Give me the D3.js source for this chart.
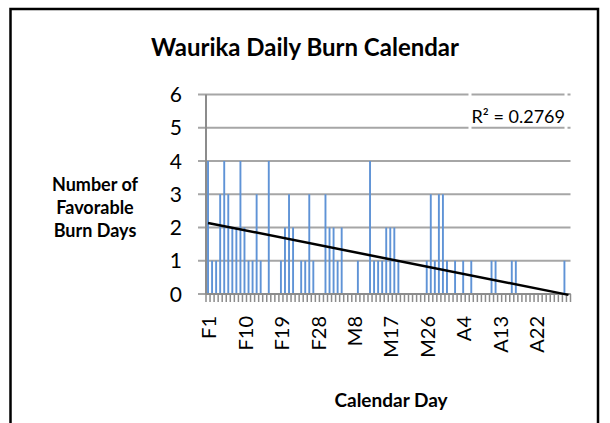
<!DOCTYPE html>
<html>
<head>
<meta charset="utf-8">
<script src="https://cdn.jsdelivr.net/npm/d3@7"></script>
<style>
  html, body { margin: 0; padding: 0; background: #fff; }
  svg { display: block; font-family: Lato, "Open Sans", sans-serif; }
</style>
</head>
<body>
<svg width="610" height="423"></svg>
<script>
// calendar days Feb 1 .. Apr 30 (leap year)
const monthDays = [["F", 29], ["M", 31], ["A", 30]];
const days = [];
monthDays.forEach(([m, n]) => { for (let d = 1; d <= n; d++) days.push(m + d); });

// number of favorable burn days per calendar day
const burnDays = [
  4, 1, 1, 3, 4, 3, 2, 2, 4, 2,
  1, 1, 3, 1, 0, 4, 0, 0, 1, 2,
  3, 2, 0, 1, 1, 3, 1, 0, 0, 3,
  2, 2, 1, 2, 0, 0, 0, 1, 0, 0,
  4, 1, 1, 1, 2, 2, 2, 1, 0, 0,
  0, 0, 0, 0, 1, 3, 1, 3, 3, 1,
  0, 1, 0, 1, 0, 1, 0, 0, 0, 0,
  1, 1, 0, 0, 0, 1, 1, 0, 0, 0,
  0, 0, 0, 0, 0, 0, 0, 0, 1, 0
];

const tickLabels = ["F1", "F10", "F19", "F28", "M8", "M17", "M26", "A4", "A13", "A22"];
const yTicks = [0, 1, 2, 3, 4, 5, 6];
const r2Label = "R\u00b2 = 0.2769";

const svg = d3.select("svg");

// outer chart border
svg.append("rect")
  .attr("x", 10.5).attr("y", 9)
  .attr("width", 587.5).attr("height", 440)
  .attr("fill", "none")
  .attr("stroke", "#000")
  .attr("stroke-width", 2.5);

const plotLeft = 206, plotRight = 570.5, plotTop = 94.5, plotBottom = 294;

const x = d3.scaleBand().domain(days).range([plotLeft, plotRight]).padding(0);
const y = d3.scaleLinear().domain([0, 6]).range([plotBottom, plotTop]);

// title
svg.append("text")
  .attr("x", 305).attr("y", 56)
  .attr("text-anchor", "middle")
  .attr("font-weight", "bold")
  .attr("font-size", 24)
  .text("Waurika Daily Burn Calendar");

// gridlines (extend left as tick marks)
svg.append("g")
  .selectAll("line")
  .data(yTicks)
  .join("line")
  .attr("x1", plotLeft - 8).attr("x2", plotRight)
  .attr("y1", d => y(d)).attr("y2", d => y(d))
  .attr("stroke", "#a6a6a6")
  .attr("stroke-width", 2);

// y tick labels
svg.append("g")
  .selectAll("text")
  .data(yTicks)
  .join("text")
  .attr("x", 182)
  .attr("y", d => y(d))
  .attr("dy", "0.36em")
  .attr("text-anchor", "end")
  .attr("font-size", 21)
  .text(d => d);

// bars
const barW = 1.9;
svg.append("g")
  .selectAll("rect")
  .data(burnDays.map((v, i) => ({ day: days[i], v })))
  .join("rect")
  .attr("x", d => x(d.day) + x.bandwidth() / 2 - barW / 2)
  .attr("y", d => y(d.v))
  .attr("width", barW)
  .attr("height", d => y(0) - y(d.v))
  .attr("fill", "#5f93d6");

// axes lines
svg.append("line")
  .attr("x1", plotLeft).attr("x2", plotLeft)
  .attr("y1", plotTop).attr("y2", plotBottom)
  .attr("stroke", "#8c8c8c").attr("stroke-width", 2);

svg.append("line")
  .attr("x1", plotLeft).attr("x2", plotRight)
  .attr("y1", plotBottom).attr("y2", plotBottom)
  .attr("stroke", "#8c8c8c").attr("stroke-width", 2);

// category tick marks at band boundaries
const bounds = days.map(d => x(d)).concat([plotRight]);
svg.append("g")
  .selectAll("line")
  .data(bounds)
  .join("line")
  .attr("x1", d => d).attr("x2", d => d)
  .attr("y1", plotBottom).attr("y2", plotBottom + 8)
  .attr("stroke", "#8c8c8c")
  .attr("stroke-width", 1.5);

// x tick labels (rotated)
svg.append("g")
  .selectAll("text")
  .data(tickLabels)
  .join("text")
  .attr("transform", d => `translate(${x(d) + x.bandwidth() / 2 + 1},316) rotate(-90)`)
  .attr("dy", "0.36em")
  .attr("text-anchor", "end")
  .attr("font-size", 20)
  .text(d => d);

// linear trendline from least squares
const n = burnDays.length;
const xs = d3.range(1, n + 1);
const mx = d3.mean(xs), my = d3.mean(burnDays);
const slope = d3.sum(xs, (xi, i) => (xi - mx) * (burnDays[i] - my)) / d3.sum(xs, xi => (xi - mx) ** 2);
const intercept = my - slope * mx;
const trend = [1, n].map(xi => ({ day: days[xi - 1], v: intercept + slope * xi }));

svg.append("path")
  .datum(trend)
  .attr("d", d3.line().x(d => x(d.day) + x.bandwidth() / 2).y(d => y(d.v)))
  .attr("stroke", "#000")
  .attr("stroke-width", 2.5)
  .attr("fill", "none");

// trendline label box (white edges break the gridlines)
svg.append("rect")
  .attr("x", 470).attr("y", 86)
  .attr("width", 96).attr("height", 50)
  .attr("fill", "none")
  .attr("stroke", "#fff")
  .attr("stroke-width", 3);

svg.append("text")
  .attr("x", 565).attr("y", 123)
  .attr("text-anchor", "end")
  .attr("font-size", 18)
  .text(r2Label);

// axis titles
const yTitle = svg.append("text")
  .attr("text-anchor", "middle")
  .attr("font-weight", "bold")
  .attr("font-size", 18);
["Number of", "Favorable", "Burn Days"].forEach((t, i) => {
  yTitle.append("tspan").attr("x", 95).attr("y", 191 + i * 23).text(t);
});

svg.append("text")
  .attr("x", 391).attr("y", 407)
  .attr("text-anchor", "middle")
  .attr("font-weight", "bold")
  .attr("font-size", 19)
  .text("Calendar Day");
</script>
</body>
</html>
